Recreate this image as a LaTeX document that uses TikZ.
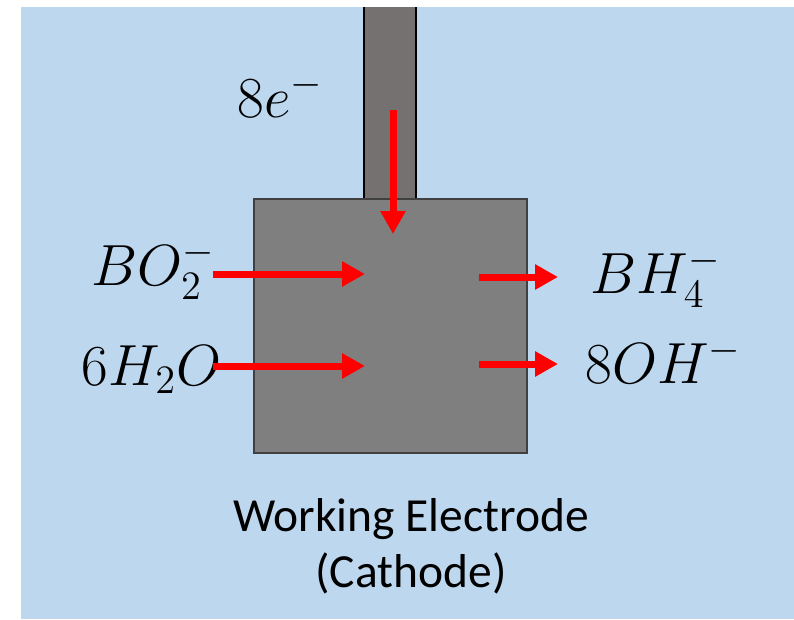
\documentclass[tikz,border=0pt]{standalone}
\usepackage{fontspec}
\newfontfamily\labelfont{Carlito}
\usetikzlibrary{arrows.meta}
\definecolor{bgblue}{HTML}{BDD7EE}
\definecolor{rodgray}{HTML}{767171}
\definecolor{boxgray}{HTML}{7F7F7F}
\definecolor{boxedge}{HTML}{404040}
\definecolor{arrowred}{HTML}{FF0000}
\tikzset{
  flow/.style={draw=arrowred, line width=7pt, -{Triangle[length=23pt,width=24pt]}},
  chem/.style={inner sep=0pt, anchor=base west, font=\huge, scale=2.8},
  caption/.style={inner sep=0pt, align=center, font=\labelfont\fontsize{47.5}{56}\selectfont}
}
\begin{document}
\begin{tikzpicture}[x=1pt,y=-1pt]
\useasboundingbox (0,0) rectangle (794,619);
\fill[white] (0,0) rectangle (794,619);
\fill[bgblue] (21,7) rectangle (794,619);
% rod
\fill[rodgray] (363,7) rectangle (417,199);
\draw[black, line width=2pt] (364,7) -- (364,199) (416,7) -- (416,199);
% electrode box
\node (box) [draw=boxedge, fill=boxgray, line width=2pt, minimum width=273pt, minimum height=254pt, inner sep=0pt] at (390.5,326) {};
% labels
\node (e) [chem] at (237,117) {$8e^-$};
\node (bo) [chem] at (91,285) {$BO_2^-$};
\node (wa) [chem] at (81,385) {$6H_2O$};
\node (bh) [chem] at (590,293) {$BH_4^-$};
\node (oh) [chem] at (585,383) {$8OH^-$};
\node (cap) [caption] at (411,546) {Working Electrode\\(Cathode)};
% arrow coordinates
\coordinate (eS) at (393,110);
\coordinate (eT) at (393,234);
\coordinate (boS) at (213,274);
\coordinate (boT) at (365,274);
\coordinate (waS) at (213,366);
\coordinate (waT) at (365,366);
\coordinate (bhS) at (479,277);
\coordinate (bhT) at (558,277);
\coordinate (ohS) at (479,364);
\coordinate (ohT) at (558,364);
\draw[flow] (eS) -- (eT);
\draw[flow] (boS) -- (boT);
\draw[flow] (waS) -- (waT);
\draw[flow] (bhS) -- (bhT);
\draw[flow] (ohS) -- (ohT);
\end{tikzpicture}
\end{document}
